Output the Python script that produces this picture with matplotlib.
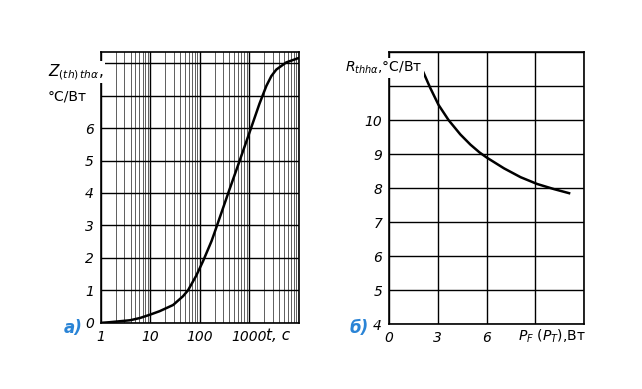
import matplotlib
matplotlib.use('Agg')
import matplotlib.pyplot as plt
from matplotlib.ticker import FixedLocator, NullFormatter

# Panel a) transient thermal impedance vs time
t_vals = [1, 1.5, 3.9, 6.2, 9.8, 15.5, 29, 46, 58, 85, 117, 174, 200, 389, 646,
          1096, 1622, 2239, 2818, 3548, 5623, 9772]
z_vals = [0.0, 0.02, 0.08, 0.15, 0.25, 0.36, 0.55, 0.82, 1.0, 1.45, 1.9, 2.52, 2.78,
          4.05, 5.0, 6.0, 6.75, 7.3, 7.6, 7.8, 8.02, 8.15]
t_ticks = [1, 10, 100, 1000]
z_ticks = [0, 1, 2, 3, 4, 5, 6]

# Panel б) thermal resistance vs power
p_vals = [1.96, 2.53, 3.04, 3.66, 4.38, 5.0, 5.56, 6.0, 7.07, 8.09, 9.11, 10.14, 11.07]
r_vals = [11.57, 10.95, 10.45, 10.0, 9.58, 9.28, 9.05, 8.9, 8.58, 8.32, 8.12, 7.97, 7.85]
p_ticks = [0, 3, 6]
r_ticks = [4, 5, 6, 7, 8, 9, 10]

plt.rcParams['font.family'] = 'DejaVu Sans'
plt.rcParams['mathtext.fontset'] = 'dejavusans'

fig = plt.figure(figsize=(6.42, 3.89), dpi=100)
ax1 = fig.add_axes([0.157, 0.170, 0.308, 0.697])
ax2 = fig.add_axes([0.606, 0.167, 0.304, 0.699])

# --- left panel (log paper)
ax1.set_xscale('log')
ax1.plot(t_vals, z_vals, color='black', lw=1.8, zorder=3, solid_joinstyle='round')
ax1.set_xlim(1, 10000)
ax1.set_ylim(0, 8.35)
ax1.xaxis.set_major_locator(FixedLocator([1, 10, 100, 1000, 10000]))
minor_pos = [k * 10 ** d for d in range(4) for k in range(2, 10)]
ax1.xaxis.set_minor_locator(FixedLocator(minor_pos))
ax1.xaxis.set_minor_formatter(NullFormatter())
ax1.set_xticklabels([str(v) for v in t_ticks] + [''])
ax1.yaxis.set_major_locator(FixedLocator(list(range(0, 9))))
ax1.set_yticklabels([str(v) if v in z_ticks else '' for v in range(0, 9)])
ax1.grid(True, which='major', color='black', lw=1.0)
ax1.grid(True, which='minor', axis='x', color='#444444', lw=0.6)

# --- right panel
ax2.plot(p_vals, r_vals, color='black', lw=1.8, zorder=3, solid_joinstyle='round')
ax2.set_xlim(0, 12)
ax2.set_ylim(4, 12)
ax2.set_xticks([0, 3, 6, 9, 12])
ax2.set_xticklabels([str(v) if v in p_ticks else '' for v in [0, 3, 6, 9, 12]])
ax2.set_yticks(list(range(4, 13)))
ax2.set_yticklabels([str(v) if v in r_ticks else '' for v in range(4, 13)])
ax2.grid(True, color='black', lw=1.0)

for ax in (ax1, ax2):
    ax.tick_params(which='both', length=0, labelsize=10, pad=5)
    for lbl in ax.get_xticklabels() + ax.get_yticklabels():
        lbl.set_style('italic')
    for sp in ax.spines.values():
        sp.set_linewidth(1.2)

# axis titles
box = dict(facecolor='white', edgecolor='none', pad=1.0)
fig.text(48 / 642, 1 - 72 / 389, r'$Z_{(th)\,th\alpha}$,', fontsize=11, va='center', ha='left',
         bbox=box, zorder=5)
fig.text(48 / 642, 1 - 96 / 389, '°C/Вт', fontsize=10, va='center', ha='left', bbox=box)
fig.text(266 / 642, 1 - 336 / 389, 't, c', fontsize=11, style='italic', va='center', ha='left')

fig.text(345 / 642, 1 - 68 / 389, r'$R_{th h\alpha}$,°C/Вт', fontsize=10, va='center', ha='left',
         bbox=box, zorder=5)
fig.text(518 / 642, 1 - 336 / 389, r'$P_F\ (P_T)$,Вт', fontsize=10, va='center', ha='left')

fig.text(64 / 642, 1 - 328 / 389, 'а)', fontsize=12, style='italic', weight='bold',
         color='#2a84d6', va='center', ha='left')
fig.text(350 / 642, 1 - 328 / 389, 'б)', fontsize=12, style='italic', weight='bold',
         color='#2a84d6', va='center', ha='left')

fig.savefig('out.png', dpi=100)
